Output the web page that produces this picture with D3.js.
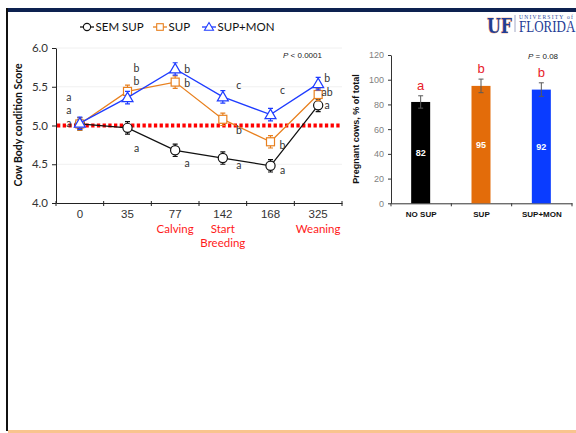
<!DOCTYPE html>
<html>
<head>
<meta charset="utf-8">
<script src="https://cdn.jsdelivr.net/npm/d3@7"></script>
<style>
  html, body { margin: 0; padding: 0; background: #fff; }
  svg { display: block; font-family: Lato, "Open Sans", "Liberation Sans", sans-serif; }
</style>
</head>
<body>
<svg id="chart" width="576" height="433"></svg>
<script>
// ---- Body condition score by day ----
const days = ["0", "35", "77", "142", "168", "325"];
const dayEvents = ["", "", "Calving", "Start\nBreeding", "", "Weaning"];
const bcsTicks = [4.0, 4.5, 5.0, 5.5, 6.0];

const seriesNames = ["SEM SUP", "SUP", "SUP+MON"];
const semSup   = [5.02, 4.97, 4.68, 4.58, 4.48, 5.26];
const sup      = [5.02, 5.44, 5.56, 5.08, 4.79, 5.40];
const supMon   = [5.03, 5.36, 5.73, 5.37, 5.14, 5.54];
const semSupErr = [0.08, 0.08, 0.08, 0.08, 0.08, 0.08];
const supErr    = [0.08, 0.08, 0.08, 0.08, 0.08, 0.08];
const supMonErr = [0.08, 0.08, 0.08, 0.08, 0.08, 0.08];
const referenceBcs = 5.0;

// significance letters: [day, score level, letter]
const bcsLetters = [
  ["0", 5.36, "a"], ["0", 5.19, "a"], ["0", 5.03, "a"],
  ["35", 5.74, "b"], ["35", 5.57, "b"], ["35", 4.70, "a"],
  ["77", 5.72, "b"], ["77", 5.54, "b"], ["77", 4.51, "a"],
  ["142", 5.51, "c"], ["142", 4.93, "b"], ["142", 4.48, "a"],
  ["168", 5.45, "c"], ["168", 4.74, "b"], ["168", 4.42, "a"],
  ["325", 5.61, "b"], ["325", 5.43, "ab"], ["325", 5.26, "a"]
];

// ---- Pregnancy rate by group ----
const groups = ["NO SUP", "SUP", "SUP+MON"];
const pregnant = [82, 95, 92];
const pregnantErr = [5, 5.5, 5.5];
const pregLetters = ["a", "b", "b"];
const pregTicks = [0, 20, 40, 60, 80, 100, 120];

const svg = d3.select("#chart");

// page frame
svg.append("rect").attr("x", 6).attr("y", 8).attr("width", 570).attr("height", 4).attr("fill", "#0d2150");
svg.append("rect").attr("x", 6).attr("y", 8).attr("width", 2).attr("height", 423).attr("fill", "#111");
svg.append("rect").attr("x", 8).attr("y", 430).attr("width", 568).attr("height", 3).attr("fill", "#f9c48e");

// UF wordmark
const logo = svg.append("g");
logo.append("text").attr("x", 487).attr("y", 32.5)
  .attr("font-family", "'DejaVu Serif', serif").attr("font-weight", "bold")
  .attr("font-size", 21).attr("textLength", 25).attr("lengthAdjust", "spacingAndGlyphs")
  .attr("fill", "#1f3d96").attr("stroke", "#f08a3c").attr("stroke-width", 0.6)
  .attr("paint-order", "stroke").text("UF");
logo.append("line").attr("x1", 515).attr("x2", 515).attr("y1", 15).attr("y2", 32)
  .attr("stroke", "#8a93b8").attr("stroke-width", 0.8);
logo.append("text").attr("x", 519).attr("y", 19)
  .attr("font-family", "'Liberation Serif', serif").attr("font-size", 5.6)
  .attr("letter-spacing", 1.2)
  .attr("fill", "#2b4a9e").text("UNIVERSITY of");
logo.append("text").attr("transform", "translate(519,31.8) scale(1,1.25)")
  .attr("font-family", "'Liberation Serif', serif").attr("font-size", 13)
  .attr("fill", "#1f3d96").text("FLORIDA");

// ---------------- line chart ----------------
const colors = ["#111111", "#e8801f", "#1f3cff"];
const values = [semSup, sup, supMon];
const errors = [semSupErr, supErr, supMonErr];

const x = d3.scaleBand().domain(days).range([56, 342]).padding(0);
const y = d3.scaleLinear().domain([4, 6]).range([203, 48]);
const cx = d => x(d) + x.bandwidth() / 2;

const left = svg.append("g");

// gridlines
left.append("g").selectAll("line").data(bcsTicks.filter(t => t !== 4 && t !== 5)).join("line")
  .attr("x1", 56).attr("x2", 342).attr("y1", d => y(d)).attr("y2", d => y(d))
  .attr("stroke", "#ececec").attr("stroke-width", 0.8);

// axes
const yAxis = left.append("g").attr("transform", "translate(56,0)")
  .call(d3.axisLeft(y).tickValues(bcsTicks).tickFormat(d3.format(".1f")).tickSize(4).tickSizeOuter(0));
yAxis.select(".domain").attr("stroke", "#222");
yAxis.selectAll(".tick line").attr("stroke", "#222");
yAxis.selectAll(".tick text").attr("font-size", 11.5).attr("fill", "#333").attr("x", -8)
  .attr("font-family", "Lato, sans-serif");

const xAxis = left.append("g").attr("transform", "translate(0,203)")
  .call(d3.axisBottom(x).tickSize(0).tickSizeOuter(0).tickPadding(7));
xAxis.select(".domain").attr("stroke", "#222");
xAxis.selectAll(".tick text").attr("font-size", 11.5).attr("fill", "#333");
// category boundary ticks
xAxis.append("g").selectAll("line").data(days.map(d => x(d)).concat([x.range()[1]])).join("line")
  .attr("x1", d => d).attr("x2", d => d).attr("y1", -2).attr("y2", 3)
  .attr("stroke", "#222");

// event labels
days.forEach((d, i) => {
  if (!dayEvents[i]) return;
  const t = left.append("text").attr("x", cx(d)).attr("y", 233)
    .attr("text-anchor", "middle").attr("font-size", 11.5).attr("fill", "#ff1a1a");
  dayEvents[i].split("\n").forEach((line, j) => {
    t.append("tspan").attr("x", cx(d)).attr("dy", j === 0 ? 0 : 13.5).text(line);
  });
});

// y label
left.append("text").attr("transform", "translate(22,125) rotate(-90)")
  .attr("text-anchor", "middle").attr("font-size", 10.5).attr("font-weight", "bold")
  .attr("fill", "#111").text("Cow Body condition Score");

// reference line at 5.0
left.append("line").attr("x1", 57).attr("x2", 342)
  .attr("y1", y(referenceBcs)).attr("y2", y(referenceBcs))
  .attr("stroke", "#ff0000").attr("stroke-width", 4).attr("stroke-dasharray", "3.3,2.4");

// series
const markers = [
  g => g.append("circle").attr("r", 4.6),
  g => g.append("rect").attr("x", -4).attr("y", -4).attr("width", 8).attr("height", 8),
  g => g.append("path").attr("d", "M0,-5.5L5.5,4L-5.5,4Z")
];

values.forEach((vals, s) => {
  const g = left.append("g");
  const line = d3.line().x((v, i) => cx(days[i])).y(v => y(v));
  g.append("path").attr("d", line(vals)).attr("fill", "none")
    .attr("stroke", colors[s]).attr("stroke-width", 1.3);
  vals.forEach((v, i) => {
    const e = errors[s][i];
    const px = cx(days[i]);
    g.append("path")
      .attr("d", `M${px},${y(v + e)}V${y(v - e)}M${px - 2.5},${y(v + e)}H${px + 2.5}M${px - 2.5},${y(v - e)}H${px + 2.5}`)
      .attr("stroke", colors[s]).attr("stroke-width", 1.2).attr("fill", "none");
  });
  vals.forEach((v, i) => {
    const m = g.append("g").attr("transform", `translate(${cx(days[i])},${y(v)})`);
    markers[s](m).attr("fill", "#fff").attr("stroke", colors[s]).attr("stroke-width", 1.2);
  });
});

// significance letters
const letterShift = { "0": -11, "35": 9, "77": 12, "142": 16, "168": 12, "325": 9 };
left.append("g").selectAll("text").data(bcsLetters).join("text")
  .attr("x", d => cx(d[0]) + letterShift[d[0]])
  .attr("y", d => y(d[1])).attr("dy", "0.32em")
  .attr("text-anchor", "middle").attr("font-size", 10.5).attr("fill", "#333")
  .text(d => d[2]);

left.append("text").attr("x", 283).attr("y", 58).attr("font-size", 8).attr("fill", "#222")
  .attr("font-family", "'Liberation Sans', Arial, sans-serif")
  .html('<tspan font-style="italic">P</tspan> &lt; 0.0001');

// legend
const legend = svg.append("g").attr("transform", "translate(80,27)");
const legendX = [0, 73, 122];
seriesNames.forEach((name, s) => {
  const g = legend.append("g").attr("transform", `translate(${legendX[s]},0)`);
  g.append("line").attr("x1", 0).attr("x2", 14).attr("stroke", colors[s]).attr("stroke-width", 1.3);
  const m = g.append("g").attr("transform", "translate(7,0)");
  if (s === 0) m.append("circle").attr("r", 3.6);
  if (s === 1) m.append("rect").attr("x", -3.3).attr("y", -3.3).attr("width", 6.6).attr("height", 6.6);
  if (s === 2) m.append("path").attr("d", "M0,-4.5L4.5,3.2L-4.5,3.2Z");
  m.selectAll("*").attr("fill", "#fff").attr("stroke", colors[s]).attr("stroke-width", 1.1);
  g.append("text").attr("x", 15.5).attr("y", 0).attr("dy", "0.35em")
    .attr("font-size", 11.5).attr("fill", "#111").text(name);
});

// ---------------- bar chart ----------------
const right = svg.append("g");
const bx = d3.scaleBand().domain(groups).range([391, 572]).padding(0);
const by = d3.scaleLinear().domain([0, 120]).range([203.3, 55]);
const barColors = ["#000000", "#e36c0a", "#0a3cff"];
const barW = 19;
const bcx = d => bx(d) + bx.bandwidth() / 2 - 0.5;

const byAxis = right.append("g").attr("transform", "translate(391,0)")
  .call(d3.axisLeft(by).tickValues(pregTicks).tickSize(3).tickSizeOuter(0));
byAxis.select(".domain").attr("stroke", "#333");
byAxis.selectAll(".tick line").attr("stroke", "#333");
byAxis.selectAll(".tick text").attr("font-size", 9).attr("fill", "#7f7f7f").attr("x", -7)
  .attr("font-family", "'Liberation Sans', Arial, sans-serif");

const bxAxis = right.append("g").attr("transform", "translate(0,203.3)")
  .call(d3.axisBottom(bx).tickSize(0).tickSizeOuter(0).tickPadding(8));
bxAxis.select(".domain").attr("stroke", "#333");
bxAxis.selectAll(".tick text").attr("font-size", 8).attr("font-weight", "bold").attr("fill", "#111")
  .attr("font-family", "'Liberation Sans', Arial, sans-serif");
bxAxis.append("g").selectAll("line").data(groups.map(d => bx(d)).concat([bx.range()[1]])).join("line")
  .attr("x1", d => d).attr("x2", d => d).attr("y1", 0).attr("y2", 3).attr("stroke", "#333");

right.append("g").selectAll("rect").data(groups).join("rect")
  .attr("x", d => bcx(d) - barW / 2).attr("width", barW)
  .attr("y", (d, i) => by(pregnant[i])).attr("height", (d, i) => by(0) - by(pregnant[i]))
  .attr("fill", (d, i) => barColors[i]);

right.append("g").selectAll("path").data(groups).join("path")
  .attr("d", (d, i) => {
    const px = bcx(d), t = by(pregnant[i] + pregnantErr[i]), b = by(pregnant[i] - pregnantErr[i]);
    return `M${px},${t}V${b}M${px - 2.5},${t}H${px + 2.5}M${px - 2.5},${b}H${px + 2.5}`;
  })
  .attr("stroke", "#595959").attr("stroke-width", 1).attr("fill", "none");

right.append("g").selectAll("text").data(groups).join("text")
  .attr("x", d => bcx(d)).attr("y", (d, i) => by((pregnant[i]) / 2)).attr("dy", "0.35em")
  .attr("text-anchor", "middle").attr("font-size", 9).attr("font-weight", "bold").attr("fill", "#fff")
  .attr("font-family", "'Liberation Sans', Arial, sans-serif")
  .text((d, i) => pregnant[i]);

right.append("g").selectAll("text").data(groups).join("text")
  .attr("x", d => bcx(d)).attr("y", (d, i) => by(pregnant[i] + pregnantErr[i]) - 6)
  .attr("text-anchor", "middle").attr("font-size", 13).attr("fill", "#e8202a")
  .attr("font-family", "'Liberation Sans', Arial, sans-serif")
  .text((d, i) => pregLetters[i]);

right.append("text").attr("transform", "translate(359,129) rotate(-90)")
  .attr("text-anchor", "middle").attr("font-size", 9).attr("font-weight", "bold")
  .attr("fill", "#111").attr("font-family", "'Liberation Sans', Arial, sans-serif")
  .text("Pregnant cows, % of total");

right.append("text").attr("x", 528).attr("y", 59).attr("font-size", 8).attr("fill", "#222")
  .attr("font-family", "'Liberation Sans', Arial, sans-serif")
  .html('<tspan font-style="italic">P</tspan> = 0.08');
</script>
</body>
</html>
